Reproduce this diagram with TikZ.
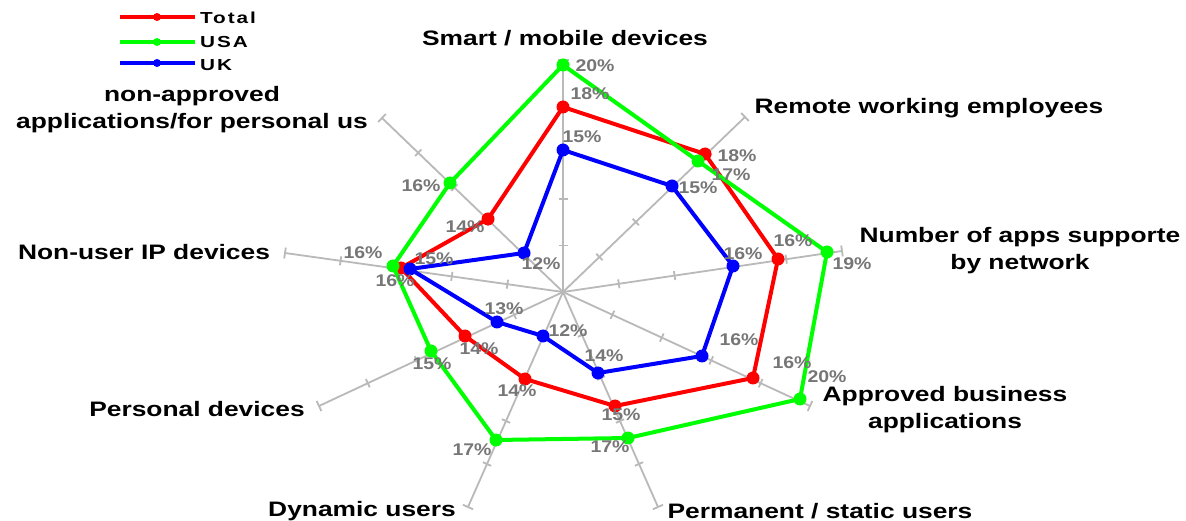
\documentclass[tikz,border=0pt]{standalone}
\usepackage{fontspec}
\setmainfont{Liberation Sans}
\newfontfamily\axfont[FakeStretch=1.26]{Liberation Sans Bold}
\newfontfamily\pctfont[FakeStretch=1.15]{Liberation Sans Bold}
\newfontfamily\legfont[FakeStretch=1.3,LetterSpace=12]{Liberation Sans Bold}
\usetikzlibrary{calc}
\definecolor{axgray}{RGB}{185,185,185}
\definecolor{pctgray}{RGB}{118,118,118}
\definecolor{tot}{RGB}{255,0,0}
\definecolor{usa}{RGB}{0,255,0}
\definecolor{uk}{RGB}{0,0,255}
\tikzset{
  axisline/.style={draw=axgray, line width=1.8bp},
  series/.style={draw=#1, line width=4bp, line join=round},
  pct/.style={font={\pctfont\fontsize{17}{17}\selectfont}, text=pctgray, inner sep=0pt},
  axlabel/.style={font={\axfont\fontsize{21}{27}\selectfont}, align=center, inner sep=0pt},
  legtext/.style={font={\legfont\fontsize{16}{16}\selectfont}, anchor=west, inner sep=0pt},
}
\def\axlist{smart,remote,napps,appr,perm,dyn,pers,nonip,nonappr}

\begin{document}
\begin{tikzpicture}[x=1bp,y=-1bp]
\fill[white] (0,0) rectangle (1186,521);
\useasboundingbox (0,0) rectangle (1186,521);

\coordinate (ctr) at (563,292);
\foreach \ax/\ex/\ey in {smart/563/60, remote/745/117, napps/842/251, appr/810/406,
    perm/658/507, dyn/468/507, pers/319/406, nonip/285/253, nonappr/382/118}
  \coordinate (\ax) at (\ex,\ey);

\foreach \ax in \axlist {
  \draw[axisline] (ctr) -- (\ax);
  \foreach \f in {0.2,0.4,0.6,0.8}
    \draw[axisline] ($(ctr)!\f!(\ax)!4.5bp!90:(\ax)$) -- ($(ctr)!\f!(\ax)!4.5bp!-90:(\ax)$);
  \draw[axisline] ($(\ax)!5.5bp!90:(ctr)$) -- ($(\ax)!5.5bp!-90:(ctr)$);
}

% data points
\foreach \ax/\px/\py in {smart/563/107, remote/705/154, napps/778/259, appr/753/378,
    perm/615/406, dyn/525/379, pers/465/336, nonip/401/268, nonappr/488/219}
  \coordinate (tot-\ax) at (\px,\py);
\foreach \ax/\px/\py in {smart/563/65, remote/698/161, napps/827/252, appr/800/399,
    perm/628/438, dyn/496/440, pers/431/351, nonip/393/266, nonappr/450/183}
  \coordinate (usa-\ax) at (\px,\py);
\foreach \ax/\px/\py in {smart/563/150, remote/672/186, napps/733/266, appr/702/356,
    perm/598/373, dyn/543/336, pers/497/322, nonip/410/269, nonappr/524/253}
  \coordinate (uk-\ax) at (\px,\py);

\foreach \s in {tot,usa,uk} {
  \draw[series=\s] (\s-smart) -- (\s-remote) -- (\s-napps) -- (\s-appr) -- (\s-perm)
    -- (\s-dyn) -- (\s-pers) -- (\s-nonip) -- (\s-nonappr) -- cycle;
  \foreach \ax in \axlist
    \fill[\s] (\s-\ax) circle (6.5bp);
}

% value labels
\foreach \ax/\lx/\ly/\v in {smart/590/94/18, remote/737/156/18, napps/793/241/16,
    appr/792/363/16, perm/621/415/15, dyn/517/391/14, pers/479/349/14,
    nonip/395/281/16, nonappr/465/227/14}
  \node[pct] (tot-\ax-v) at (\lx,\ly) {\v\%};
\foreach \ax/\lx/\ly/\v in {smart/595/66/20, remote/731/175/17, napps/852/264/19,
    appr/827/377/20, perm/610/447/17, dyn/472/450/17, pers/432/364/15,
    nonip/363/253/16, nonappr/421/186/16}
  \node[pct] (usa-\ax-v) at (\lx,\ly) {\v\%};
\foreach \ax/\lx/\ly/\v in {smart/582/137/15, remote/698/188/15, napps/743/254/16,
    appr/739/340/16, perm/604/356/14, dyn/568/331/12, pers/504/309/13,
    nonip/434/259/15, nonappr/541/264/12}
  \node[pct] (uk-\ax-v) at (\lx,\ly) {\v\%};

% axis labels
\node[axlabel] (lbl-smart) at (565,38) {Smart / mobile devices};
\node[axlabel] (lbl-remote) at (929,108) {Remote working employees};
\node[axlabel] (lbl-napps) at (1020,251) {Number of apps supporte\\by network};
\node[axlabel] (lbl-appr) at (945,410) {Approved business\\applications};
\node[axlabel] (lbl-perm) at (820,511) {Permanent / static users};
\node[axlabel] (lbl-dyn) at (362,511) {Dynamic users};
\node[axlabel] (lbl-pers) at (197,409) {Personal devices};
\node[axlabel] (lbl-nonip) at (144,252) {Non-user IP devices};
\node[axlabel] (lbl-nonappr) at (192,110) {non-approved\\applications/for personal us};

% legend
\foreach \s/\ly/\tx/\txt in {tot/17/17.5/Total, usa/42/42.5/USA, uk/63/65/UK} {
  \coordinate (leg-\s-a) at (120,\ly);
  \coordinate (leg-\s-b) at (195,\ly);
  \coordinate (leg-\s-m) at (157,\ly);
  \draw[\s, line width=4bp] (leg-\s-a) -- (leg-\s-b);
  \fill[\s] (leg-\s-m) circle (4bp);
  \node[legtext] (leg-\s) at (200,\tx) {\txt};
}
\end{tikzpicture}
\end{document}
